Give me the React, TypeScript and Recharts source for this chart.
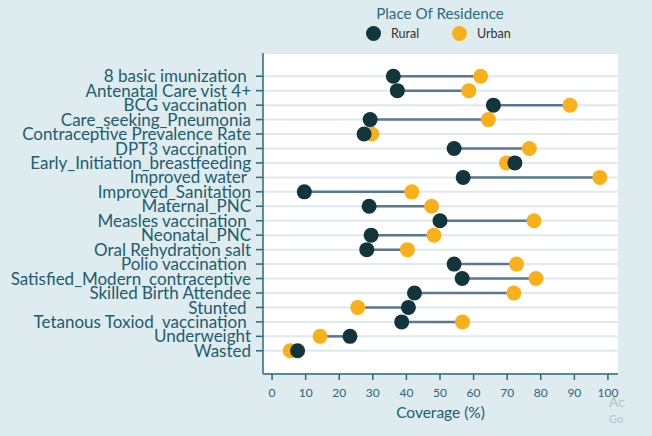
import React from 'react';
import { ComposedChart, Bar, Line, XAxis, YAxis, CartesianGrid } from 'recharts';

const categories = [
    '8 basic imunization ',
    'Antenatal Care vist 4+',
    'BCG vaccination ',
    'Care_seeking_Pneumonia',
    'Contraceptive Prevalence Rate',
    'DPT3 vaccination ',
    'Early_Initiation_breastfeeding',
    'Improved water ',
    'Improved_Sanitation',
    'Maternal_PNC',
    'Measles vaccination ',
    'Neonatal_PNC',
    'Oral Rehydration salt',
    'Polio vaccination ',
    'Satisfied_Modern_contraceptive',
    'Skilled Birth Attendee',
    'Stunted ',
    'Tetanous Toxiod  vaccination ',
    'Underweight',
    'Wasted',
];

const rural = [36.1, 37.3, 65.9, 29.2, 27.4, 54.2, 72.3, 56.9, 9.6, 28.9, 50.0, 29.5, 28.2, 54.2, 56.6, 42.4, 40.6, 38.6, 23.2, 7.6];
const urban = [62.1, 58.6, 88.7, 64.4, 29.7, 76.6, 69.8, 97.6, 41.6, 47.5, 78.0, 48.2, 40.3, 72.8, 78.6, 72.0, 25.5, 56.7, 14.3, 5.4];

const xTicks = [0, 10, 20, 30, 40, 50, 60, 70, 80, 90, 100];

const BG = '#deebef';
const RURAL = '#12353c';
const URBAN = '#f9b01b';
const TEAL = '#225c6f';
const FONT = 'Lato, "Open Sans", sans-serif';

const data = categories.map((name, i) => ({
    name,
    rural: rural[i],
    urban: urban[i],
    range: [Math.min(rural[i], urban[i]), Math.max(rural[i], urban[i])],
}));

// keep the trailing spaces the source labels have
const CategoryTick = (props: any) => {
    const { x, y, payload } = props;
    return (
        <text
            x={x}
            y={y}
            dy="0.36em"
            textAnchor="end"
            fill={TEAL}
            fontSize={17}
            fontFamily={FONT}
            xmlSpace="preserve"
            style={{ whiteSpace: 'pre' }}
        >
            {payload.value}
        </text>
    );
};

const Dot = ({ color }: { color: string }) => (
    <span style={{ display: 'inline-block', width: 15, height: 15, borderRadius: '50%', background: color }} />
);

export default function App() {
    return (
        <div style={{ position: 'absolute', left: 0, top: 0, width: 652, height: 436, background: BG, fontFamily: FONT, overflow: 'hidden' }}>
            <div style={{ position: 'absolute', left: 0, width: 652, paddingLeft: 228, boxSizing: 'border-box', top: 4, textAlign: 'center', color: '#2b6b80', fontSize: 15.2 }}>
                Place Of Residence
            </div>
            <div style={{ position: 'absolute', left: 366, top: 26, display: 'flex', alignItems: 'center', fontSize: 12.5, color: '#333' }}>
                <Dot color={RURAL} />
                <span style={{ marginLeft: 10, width: 61 }}>Rural</span>
                <Dot color={URBAN} />
                <span style={{ marginLeft: 10 }}>Urban</span>
            </div>

            <ComposedChart
                width={652}
                height={436}
                data={data}
                layout="vertical"
                margin={{ top: 53, right: 34, bottom: 32, left: 0 }}
            >
                <CartesianGrid horizontal vertical={false} fill="#ffffff" stroke="#dfeaef" strokeWidth={2} />
                <XAxis
                    type="number"
                    domain={[-2.7, 103]}
                    ticks={xTicks}
                    allowDataOverflow
                    height={30}
                    stroke="#2a6a7b"
                    strokeWidth={1.5}
                    tickSize={6}
                    tickMargin={8}
                    tick={{ fill: '#2f6479', fontSize: 12, fontFamily: FONT }}
                />
                <YAxis
                    type="category"
                    dataKey="name"
                    width={263}
                    padding={{ top: 16, bottom: 16 }}
                    stroke="#2a6a7b"
                    strokeWidth={1.5}
                    tickSize={7}
                    tickMargin={5}
                    interval={0}
                    tick={<CategoryTick />}
                />
                <Bar dataKey="range" barSize={2.5} fill="#5b7893" isAnimationActive={false} />
                <Line dataKey="urban" stroke="none" dot={{ r: 7.5, fill: URBAN, stroke: 'none' }} activeDot={false} isAnimationActive={false} />
                <Line dataKey="rural" stroke="none" dot={{ r: 7.5, fill: RURAL, stroke: 'none' }} activeDot={false} isAnimationActive={false} />
            </ComposedChart>

            <div style={{ position: 'absolute', left: 263, width: 355, top: 403, textAlign: 'center', color: TEAL, fontSize: 15.5 }}>
                Coverage (%)
            </div>
            <div style={{ position: 'absolute', left: 609, top: 394, color: '#b9c2c6', fontSize: 14, lineHeight: '16px' }}>
                Ac<br />
                <span style={{ fontSize: 11 }}>Go</span>
            </div>
        </div>
    );
}
